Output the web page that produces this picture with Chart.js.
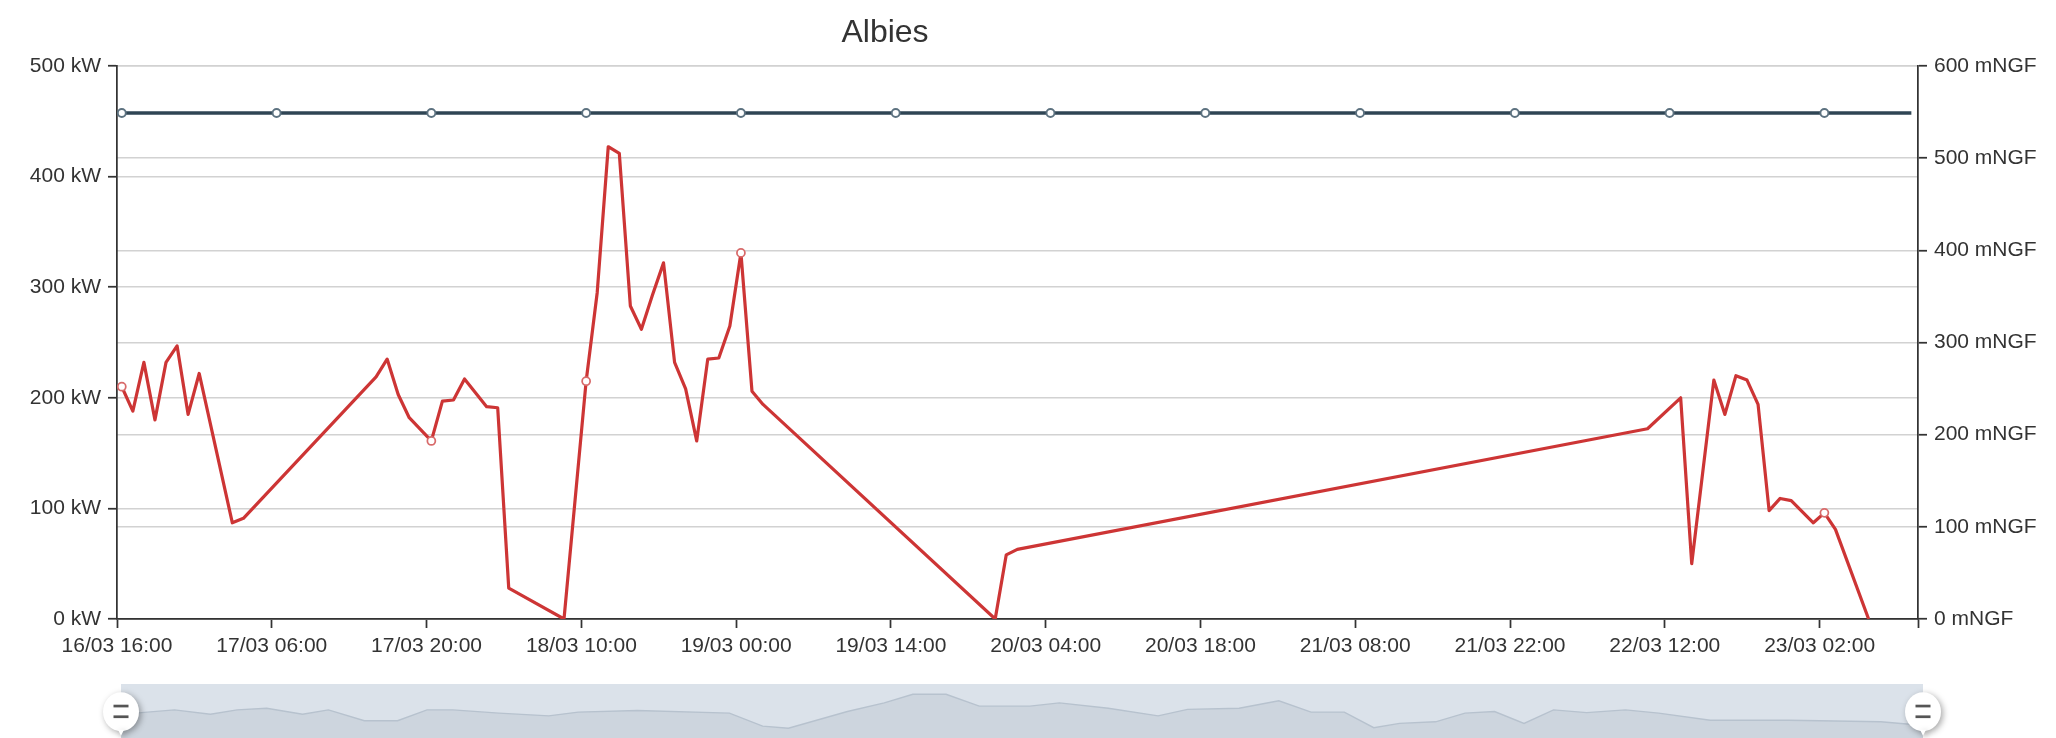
<!DOCTYPE html>
<html>
<head>
<meta charset="utf-8">
<title>Albies</title>
<script src="https://cdn.jsdelivr.net/npm/chart.js@4.4.1/dist/chart.umd.min.js"></script>
<style>
  html, body { margin: 0; padding: 0; background: #fff; }
  #wrap { position: relative; width: 2056px; height: 738px; overflow: hidden; }
  #mainChart { position: absolute; left: 0; top: 0; }
  #zoomChart { position: absolute; left: 0; top: 680px; }
</style>
</head>
<body>
<div id="wrap">
  <canvas id="mainChart" width="2056" height="680"></canvas>
  <canvas id="zoomChart" width="2056" height="58"></canvas>
</div>
<script>
var chartTitle = 'Albies'
var xStart = '16/03 16:00'
var xEnd = '23/03 10:54'
var xTickHours = 14

// puissance (kW), axe de gauche
var powerTimes = ['16/03 16:26','16/03 17:26','16/03 18:26','16/03 19:26','16/03 20:26','16/03 21:26','16/03 22:26','16/03 23:26',
    '17/03 02:26','17/03 03:26','17/03 15:26','17/03 16:26','17/03 17:26','17/03 18:26','17/03 20:26','17/03 21:26',
    '17/03 22:26','17/03 23:26','18/03 01:26','18/03 02:26','18/03 03:26','18/03 08:26','18/03 10:26','18/03 11:26',
    '18/03 12:26','18/03 13:26','18/03 14:26','18/03 15:26','18/03 16:26','18/03 17:26','18/03 18:26','18/03 19:26',
    '18/03 20:26','18/03 21:26','18/03 22:26','18/03 23:26','19/03 00:26','19/03 01:26','19/03 02:26','19/03 23:26',
    '20/03 00:26','20/03 01:26','22/03 10:26','22/03 13:26','22/03 14:26','22/03 16:26','22/03 17:26','22/03 18:26',
    '22/03 19:26','22/03 20:26','22/03 21:26','22/03 22:26','22/03 23:26','23/03 01:26','23/03 02:26','23/03 03:26',
    '23/03 06:26']
var powerKW = [210, 188, 232, 180, 232, 247, 185, 222,
    87, 91, 219, 235, 203, 182, 161, 197,
    198, 217, 192, 191, 28, 0, 215, 295,
    427, 421, 283, 262, 293, 322, 232, 208,
    161, 235, 236, 265, 331, 206, 194, 0,
    58, 63, 172, 200, 50, 216, 185, 220,
    216, 194, 98, 109, 107, 87, 96, 81,
    0]
var powerMarkers = ['16/03 16:26','17/03 20:26','18/03 10:26','19/03 00:26','23/03 02:26']

// niveau (mNGF), axe de droite
var levelTimes = ['16/03 16:00','16/03 16:26','17/03 06:26','17/03 20:26','18/03 10:26','19/03 00:26','19/03 14:26',
    '20/03 04:26','20/03 18:26','21/03 08:26','21/03 22:26','22/03 12:26','23/03 02:26','23/03 10:18']
var levelMNGF = [549, 549, 549, 549, 549, 549, 549, 549, 549, 549, 549, 549, 549, 549]

// apercu du dataZoom (hauteur en % du bandeau)
var shadowTimes = ['16/03 16:00','16/03 17:50','16/03 20:50','17/03 00:05','17/03 02:30','17/03 05:10','17/03 08:25',
    '17/03 10:45','17/03 14:00','17/03 17:00','17/03 19:40','17/03 22:00','18/03 02:10','18/03 06:40','18/03 09:20',
    '18/03 14:40','18/03 23:00','19/03 02:00','19/03 04:20','19/03 09:40','19/03 13:00','19/03 15:35','19/03 18:35',
    '19/03 21:35','20/03 02:10','20/03 04:50','20/03 09:15','20/03 13:45','20/03 16:25','20/03 21:05','21/03 00:40',
    '21/03 03:35','21/03 06:35','21/03 09:15','21/03 11:35','21/03 14:50','21/03 17:30','21/03 20:10','21/03 22:50',
    '22/03 01:30','22/03 04:30','22/03 08:00','22/03 11:00','22/03 15:40','22/03 22:45','23/03 07:05','23/03 09:25',
    '23/03 10:54']
var shadowValues = [46, 47, 52, 44, 52, 55, 44,
    52, 32, 32, 52, 52, 46, 41, 48,
    51, 46, 22, 18, 49, 65, 81, 81,
    59, 59, 65, 55, 41, 53, 55, 69,
    48, 48, 19, 27, 30, 46, 49, 27,
    52, 47, 52, 46, 33, 33, 30, 26,
    26]

var redColor = '#cd3535'
var blueColor = '#2f4554'
var textColor = '#333'
var fontFamily = '"Liberation Sans", Arial, Helvetica, sans-serif'

function pad2(n) { return (n < 10 ? '0' : '') + n }

function toHours(s)
{
    var day = parseInt(s.slice(0, 2), 10)
    var hh = parseInt(s.slice(6, 8), 10)
    var mm = parseInt(s.slice(9, 11), 10)
    var d0 = parseInt(xStart.slice(0, 2), 10)
    var h0 = parseInt(xStart.slice(6, 8), 10)
    return (day - d0) * 24 + (hh - h0) + mm / 60
}

function toLabel(hours)
{
    var base = parseInt(xStart.slice(0, 2), 10) * 24 + parseInt(xStart.slice(6, 8), 10)
    var total = Math.round((base + hours) * 60)
    var day = Math.floor(total / 1440)
    var hh = Math.floor((total % 1440) / 60)
    var mm = total % 60
    return pad2(day) + xStart.slice(2, 6) + pad2(hh) + ':' + pad2(mm)
}

function points(times, values)
{
    let out = []
    for (var i = 0; i < times.length; i++)
        out.push({ x: toHours(times[i]), y: values[i] })
    return out
}

var titlePlugin = {
    id: 'albiesTitle',
    afterDraw: function(chart) {
        var ctx = chart.ctx
        ctx.save()
        ctx.font = '32px ' + fontFamily
        ctx.fillStyle = textColor
        ctx.textAlign = 'center'
        ctx.textBaseline = 'alphabetic'
        ctx.fillText(chartTitle, 885, 42)
        ctx.restore()
    }
}

let yGrid = {
    color: '#d2d2d2',
    lineWidth: 1.5,
    tickColor: textColor,
    tickWidth: 1.75,
    tickLength: 9
}

new Chart(document.getElementById('mainChart'), {
    type: 'line',
    data: {
        datasets: [{
            label: 'kW',
            data: points(powerTimes, powerKW),
            yAxisID: 'y',
            borderColor: redColor,
            borderWidth: 3.2,
            borderJoinStyle: 'round',
            tension: 0,
            pointRadius: function(c) { return powerMarkers.includes(powerTimes[c.dataIndex]) ? 4 : 0 },
            pointBackgroundColor: '#fff',
            pointBorderColor: '#d86a6a',
            pointBorderWidth: 1.75
        }, {
            label: 'mNGF',
            data: points(levelTimes, levelMNGF),
            yAxisID: 'y1',
            borderColor: blueColor,
            borderWidth: 3.4,
            tension: 0,
            pointRadius: function(c) { return (c.dataIndex === 0 || c.dataIndex === levelTimes.length - 1) ? 0 : 4 },
            pointBackgroundColor: '#fff',
            pointBorderColor: '#5d7280',
            pointBorderWidth: 1.9
        }]
    },
    options: {
        responsive: false,
        animation: false,
        events: [],
        layout: { padding: { top: 66, left: 0, right: 0, bottom: 0 } },
        plugins: {
            legend: { display: false },
            tooltip: { enabled: false },
            title: { display: false }
        },
        scales: {
            x: {
                type: 'linear',
                min: 0,
                max: toHours(xEnd),
                afterFit: function(s) { s.height = 61 },
                border: { display: true, color: textColor, width: 1.75 },
                grid: { drawOnChartArea: false, drawTicks: true, tickLength: 9, tickColor: textColor, tickWidth: 1.75 },
                ticks: {
                    stepSize: xTickHours,
                    autoSkip: false,
                    maxRotation: 0,
                    padding: 6,
                    color: textColor,
                    font: { family: fontFamily, size: 21 },
                    callback: function(v) { return Math.abs(v % xTickHours) < 1e-6 ? toLabel(v) : '' }
                }
            },
            y: {
                position: 'left',
                min: 0,
                max: 500,
                afterFit: function(s) { s.width = 117 },
                border: { display: true, color: textColor, width: 1.75 },
                grid: yGrid,
                ticks: {
                    stepSize: 100,
                    padding: 7,
                    color: textColor,
                    font: { family: fontFamily, size: 21 },
                    callback: function(v) { return v + ' kW' }
                }
            },
            y1: {
                position: 'right',
                min: 0,
                max: 600,
                afterFit: function(s) { s.width = 138 },
                border: { display: true, color: textColor, width: 1.75 },
                grid: yGrid,
                ticks: {
                    stepSize: 100,
                    padding: 7,
                    color: textColor,
                    font: { family: fontFamily, size: 21 },
                    callback: function(v) { return v + ' mNGF' }
                }
            }
        }
    },
    plugins: [titlePlugin]
})

function drawHandle(ctx, x, y)
{
    ctx.save()
    ctx.shadowColor = 'rgba(0,0,0,0.35)'
    ctx.shadowBlur = 6
    ctx.shadowOffsetX = 2
    ctx.shadowOffsetY = 2
    ctx.fillStyle = '#fff'
    ctx.beginPath()
    ctx.ellipse(x, y, 18, 19.5, 0, 0, Math.PI * 2)
    ctx.fill()
    ctx.beginPath()
    ctx.moveTo(x - 3, y + 18)
    ctx.lineTo(x + 3, y + 18)
    ctx.lineTo(x, y + 24)
    ctx.fill()
    ctx.restore()
    ctx.save()
    ctx.fillStyle = '#555'
    ctx.fillRect(x - 7.5, y - 7, 15, 2.7)
    ctx.fillRect(x - 7.5, y + 3.7, 15, 2.7)
    ctx.restore()
}

var sliderPlugin = {
    id: 'sliderFrame',
    beforeDatasetsDraw: function(chart) {
        var a = chart.chartArea
        var ctx = chart.ctx
        ctx.save()
        ctx.fillStyle = '#dbe2ea'
        ctx.fillRect(a.left, a.top, a.right - a.left, a.bottom - a.top)
        ctx.restore()
    },
    afterDraw: function(chart) {
        var a = chart.chartArea
        drawHandle(chart.ctx, a.left, 31.7)
        drawHandle(chart.ctx, a.right, 31.7)
    }
}

new Chart(document.getElementById('zoomChart'), {
    type: 'line',
    data: {
        datasets: [{
            data: points(shadowTimes, shadowValues),
            borderColor: '#b7c2ce',
            borderWidth: 1.4,
            backgroundColor: '#cdd5de',
            fill: 'start',
            pointRadius: 0,
            tension: 0
        }]
    },
    options: {
        responsive: false,
        animation: false,
        events: [],
        layout: { padding: { top: 4, left: 121, right: 133, bottom: 0 } },
        plugins: { legend: { display: false }, tooltip: { enabled: false } },
        scales: {
            x: { type: 'linear', display: false, min: 0, max: toHours(xEnd) },
            y: { display: false, min: 0, max: 100 }
        }
    },
    plugins: [sliderPlugin]
})
</script>
</body>
</html>
